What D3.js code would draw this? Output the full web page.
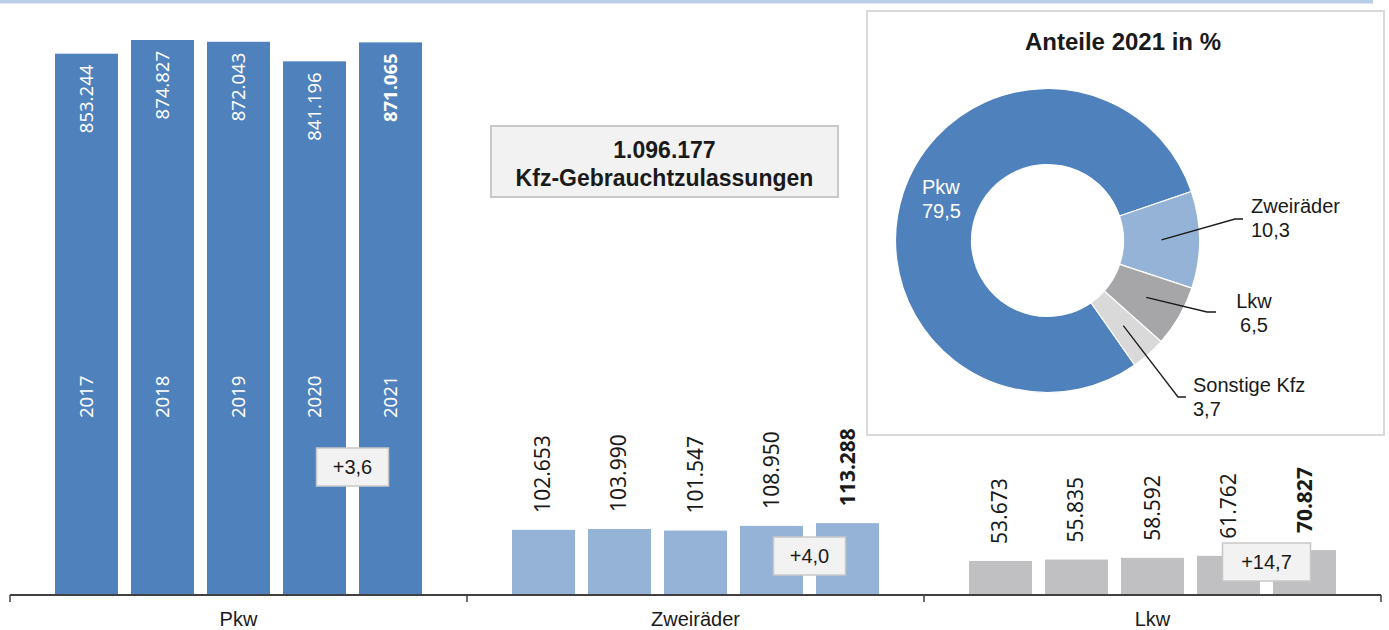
<!DOCTYPE html>
<html>
<head>
<meta charset="utf-8">
<script src="https://cdn.jsdelivr.net/npm/d3@7"></script>
<style>
    body { margin: 0; background: #fff; }
    svg { display: block; font-family: "Liberation Sans", Arial, sans-serif; }
</style>
</head>
<body>
<div id="chart"></div>
<script>
const groups = ["Pkw", "Zweiräder", "Lkw"];
const years = ["2017", "2018", "2019", "2020", "2021"];
const pkwValues = [853244, 874827, 872043, 841196, 871065];
const zweiradValues = [102653, 103990, 101547, 108950, 113288];
const lkwValues = [53673, 55835, 58592, 61762, 70827];
const changeLabels = ["+3,6", "+4,0", "+14,7"];
const totalLabel = ["1.096.177", "Kfz-Gebrauchtzulassungen"];

const shareNames = ["Pkw", "Zweiräder", "Lkw", "Sonstige Kfz"];
const shareValues = [79.5, 10.3, 6.5, 3.7];
const shareTitle = "Anteile 2021 in %";

const seriesValues = [pkwValues, zweiradValues, lkwValues];
const barColors = ["#4f81bd", "#95b3d7", "#c0c0c3"];
const pieColors = ["#4f81bd", "#95b3d7", "#a6a6a8", "#d9d9d9"];

const fmt = v => d3.format(",")(v).replace(/,/g, ".");
const fmtPct = v => d3.format(".1f")(v).replace(".", ",");

const W = 1389, H = 630;
const svg = d3.select("#chart").append("svg")
    .attr("width", W)
    .attr("height", H);

// light band along the top
svg.append("rect")
    .attr("x", 0).attr("y", 0)
    .attr("width", 1373).attr("height", 3.5)
    .attr("fill", "#b9cde5");

const baseY = 595;
const xGroup = d3.scaleBand().domain(groups).range([10, 1381]).padding(0);
const xBar = d3.scaleBand().domain(years).range([0, xGroup.bandwidth()])
    .paddingInner(13 / 76).paddingOuter(0.592);
const y = d3.scaleLinear().domain([0, d3.max(pkwValues)]).range([baseY, 40]);

groups.forEach((g, gi) => {
    const gx = xGroup(g);
    const vals = seriesValues[gi];
    const gSel = svg.append("g").attr("transform", `translate(${gx},0)`);

    gSel.selectAll("rect.bar")
        .data(vals)
        .enter()
        .append("rect")
        .attr("class", "bar")
        .attr("x", (d, i) => xBar(years[i]))
        .attr("y", d => y(d))
        .attr("width", xBar.bandwidth())
        .attr("height", d => baseY - y(d))
        .attr("fill", barColors[gi]);

    if (gi === 0) {
        // values inside the tall bars, white
        gSel.selectAll("text.val")
            .data(vals)
            .enter()
            .append("text")
            .attr("transform", (d, i) => `translate(${xBar(years[i]) + xBar.bandwidth() / 2 + 6.5},${y(d) + 11}) rotate(-90)`)
            .attr("text-anchor", "end")
            .attr("fill", "#fff")
            .style("font-family", "'Noto Sans', sans-serif")
            .style("font-size", "18.5px")
            .style("font-weight", (d, i) => i === 4 ? "bold" : "normal")
            .text(d => fmt(d));

        gSel.selectAll("text.year")
            .data(years)
            .enter()
            .append("text")
            .attr("transform", d => `translate(${xBar(d) + xBar.bandwidth() / 2 + 6.5},418) rotate(-90)`)
            .attr("text-anchor", "start")
            .attr("fill", "#fff")
            .style("font-family", "'Noto Sans', sans-serif")
            .style("font-size", "18.5px")
            .text(d => d);
    } else {
        gSel.selectAll("text.val")
            .data(vals)
            .enter()
            .append("text")
            .attr("transform", (d, i) => `translate(${xBar(years[i]) + xBar.bandwidth() / 2 + 7},${y(d) - 17}) rotate(-90)`)
            .attr("text-anchor", "start")
            .attr("fill", "#1a1a1a")
            .style("font-family", "'Noto Sans', sans-serif")
            .style("font-size", "21px")
            .style("font-weight", (d, i) => i === 4 ? "bold" : "normal")
            .text(d => fmt(d));
    }

    // change box between 2020 and 2021
    const boxW = gi === 2 ? 88 : 72;
    const boxH = 38;
    const cx = (xBar(years[3]) + xBar.bandwidth() + xBar(years[4])) / 2;
    const cy = [467, 556, 562][gi];
    gSel.append("rect")
        .attr("x", cx - boxW / 2).attr("y", cy - boxH / 2)
        .attr("width", boxW).attr("height", boxH)
        .attr("fill", "#f2f2f2")
        .attr("stroke", "#c8c8c8")
        .attr("stroke-width", 1.5);
    gSel.append("text")
        .attr("x", cx).attr("y", cy + 7)
        .attr("text-anchor", "middle")
        .attr("fill", "#1a1a1a")
        .style("font-size", "20px")
        .text(changeLabels[gi]);
});

// category axis
svg.append("line")
    .attr("x1", 10).attr("x2", 1381)
    .attr("y1", baseY).attr("y2", baseY)
    .attr("stroke", "#404040").attr("stroke-width", 2);

svg.selectAll("line.tick")
    .data(d3.range(groups.length + 1))
    .enter()
    .append("line")
    .attr("x1", i => 10 + i * xGroup.bandwidth())
    .attr("x2", i => 10 + i * xGroup.bandwidth())
    .attr("y1", baseY).attr("y2", baseY + 7)
    .attr("stroke", "#404040").attr("stroke-width", 1.5);

svg.selectAll("text.cat")
    .data(groups)
    .enter()
    .append("text")
    .attr("x", d => xGroup(d) + xGroup.bandwidth() / 2)
    .attr("y", 626)
    .attr("text-anchor", "middle")
    .attr("fill", "#1a1a1a")
    .style("font-size", "20px")
    .text(d => d);

// total box
svg.append("rect")
    .attr("x", 491).attr("y", 126)
    .attr("width", 347).attr("height", 71)
    .attr("fill", "#f2f2f2")
    .attr("stroke", "#c8c8c8")
    .attr("stroke-width", 2);
svg.selectAll("text.total")
    .data(totalLabel)
    .enter()
    .append("text")
    .attr("x", 664.5)
    .attr("y", (d, i) => 158 + i * 28)
    .attr("text-anchor", "middle")
    .attr("fill", "#1a1a1a")
    .style("font-size", "23px")
    .style("font-weight", "bold")
    .text(d => d);

// donut panel
svg.append("rect")
    .attr("x", 867).attr("y", 11)
    .attr("width", 517).attr("height", 424)
    .attr("fill", "#fff")
    .attr("stroke", "#d9d9d9")
    .attr("stroke-width", 2);

svg.append("text")
    .attr("x", 1123).attr("y", 50)
    .attr("text-anchor", "middle")
    .attr("fill", "#1a1a1a")
    .style("font-size", "24px")
    .style("font-weight", "bold")
    .text(shareTitle);

const pieData = shareNames.map((n, i) => ({ name: n, value: shareValues[i] }));
const pie = d3.pie()
    .sort(null)
    .value(d => d.value)
    .startAngle(-215 * Math.PI / 180)
    .endAngle(145 * Math.PI / 180);
const arcs = pie(pieData);
const arc = d3.arc().innerRadius(76).outerRadius(152);

const donut = svg.append("g").attr("transform", "translate(1047.5,240.5)");
donut.selectAll("path")
    .data(arcs)
    .enter()
    .append("path")
    .attr("d", arc)
    .attr("fill", (d, i) => pieColors[i])
    .attr("stroke", "#fff")
    .attr("stroke-width", 1.2);

// Pkw label inside the ring
donut.selectAll("text.pkw")
    .data([shareNames[0], fmtPct(shareValues[0])])
    .enter()
    .append("text")
    .attr("x", 922 - 1047.5)
    .attr("y", (d, i) => 194 - 240.5 + i * 24)
    .attr("fill", "#fff")
    .style("font-size", "20px")
    .text(d => d);

// outside labels with leader lines
const outside = [
    { idx: 1, elbow: [1235, 219], end: [1243, 219], tx: 1251, ty: 213, anchor: "start" },
    { idx: 2, elbow: [1207, 312], end: [1216, 312], tx: 1254, ty: 308, anchor: "middle" },
    { idx: 3, elbow: [1178, 397], end: [1186, 397], tx: 1193, ty: 392, anchor: "start" }
];
outside.forEach(o => {
    const c = arc.centroid(arcs[o.idx]);
    const pts = [[c[0] + 1047.5, c[1] + 240.5], o.elbow, o.end];
    svg.append("path")
        .attr("d", d3.line()(pts))
        .attr("fill", "none")
        .attr("stroke", "#1a1a1a")
        .attr("stroke-width", 1.3);
    svg.selectAll(null)
        .data([shareNames[o.idx], fmtPct(shareValues[o.idx])])
        .enter()
        .append("text")
        .attr("x", o.tx)
        .attr("y", (d, i) => o.ty + i * 24)
        .attr("text-anchor", o.anchor)
        .attr("fill", "#1a1a1a")
        .style("font-size", "20px")
        .text(d => d);
});
</script>
</body>
</html>
